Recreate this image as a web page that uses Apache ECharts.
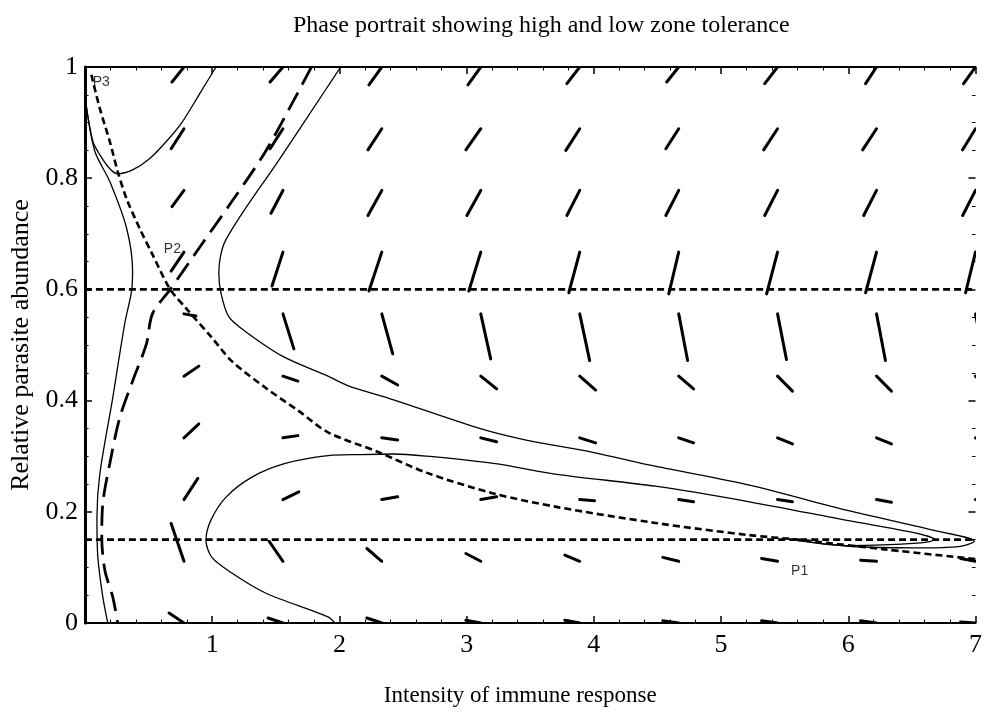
<!DOCTYPE html>
<html><head><meta charset="utf-8">
<script src="https://cdn.jsdelivr.net/npm/echarts@6/dist/echarts.min.js"></script>
<style>html,body{margin:0;padding:0;background:#fff}#c{width:985px;height:712px}</style>
</head><body><div id="c"></div>
<script>
const chartTitle = 'Phase portrait showing high and low zone tolerance';
const xName = 'Intensity of immune response';
const yName = 'Relative parasite abundance';
const xTickLabels = ['', '1', '2', '3', '4', '5', '6', '7'];
const yTickLabels = ['0', '0.2', '0.4', '0.6', '0.8', '1'];

// direction field grid (tail points) and segment components, rows bottom -> top
const fieldX = [0.778, 1.556, 2.333, 3.111, 3.889, 4.667, 5.444, 6.222, 7.0];
const fieldY = [0, 0.111, 0.222, 0.333, 0.444, 0.556, 0.667, 0.778, 0.889, 1.0];
const fieldU = [
  [-0.117,-0.117,-0.117,-0.117,-0.117,-0.125,-0.125,-0.125,-0.117],
  [-0.101,-0.109,-0.117,-0.117,-0.117,-0.125,-0.125,-0.125,-0.117],
  [0.109,0.125,0.125,0.125,0.117,0.117,0.117,0.117,0.117],
  [0.117,0.117,0.125,0.125,0.125,0.117,0.117,0.117,0.117],
  [0.117,0.117,0.125,0.125,0.125,0.117,0.117,0.117,0.117],
  [0.094,0.086,0.086,0.078,0.078,0.070,0.070,0.070,0.070],
  [-0.101,-0.086,-0.101,-0.094,-0.086,-0.078,-0.086,-0.086,-0.078],
  [-0.094,-0.094,-0.109,-0.109,-0.101,-0.101,-0.101,-0.101,-0.101],
  [-0.101,-0.101,-0.109,-0.117,-0.109,-0.101,-0.109,-0.109,-0.101],
  [-0.094,-0.101,-0.101,-0.101,-0.101,-0.094,-0.101,-0.086,-0.094]
];
const fieldV = [
  [0.018,0.009,0.009,0.005,0.005,0.004,0.004,0.004,0.002],
  [0.068,0.036,0.023,0.014,0.011,0.007,0.005,0.002,0.005],
  [0.038,0.014,0.005,0.005,-0.002,-0.004,-0.004,-0.005,-0.005],
  [0.025,0.004,-0.004,-0.007,-0.009,-0.009,-0.011,-0.011,-0.011],
  [0.018,-0.009,-0.016,-0.023,-0.025,-0.023,-0.027,-0.027,-0.027],
  [-0.004,-0.063,-0.072,-0.081,-0.084,-0.084,-0.082,-0.084,-0.084],
  [-0.034,-0.061,-0.070,-0.070,-0.073,-0.075,-0.075,-0.073,-0.073],
  [-0.029,-0.041,-0.045,-0.045,-0.045,-0.045,-0.045,-0.045,-0.045],
  [-0.036,-0.036,-0.038,-0.038,-0.039,-0.036,-0.038,-0.038,-0.038],
  [-0.027,-0.027,-0.032,-0.032,-0.030,-0.027,-0.030,-0.030,-0.030]
];

// horizontal nullclines
const highLevel = [[0, 0.6], [7, 0.6]];
const lowLevel = [[0, 0.15], [7, 0.15]];
// curved nullcline (short dash)
const curvedNullcline = [[0.05,0.986],[0.117,0.925],[0.195,0.866],[0.257,0.812],[0.327,0.763],[0.429,0.71],[0.53,0.663],[0.67,0.6],[0.795,0.566],[0.998,0.513],[1.154,0.471],[1.419,0.423],[1.676,0.382],[1.91,0.343],[2.299,0.308],[2.689,0.27],[3.21,0.233],[3.726,0.208],[4.482,0.18],[5.222,0.158],[5.6,0.15],[6.3,0.132],[7.0,0.115]];
// separatrix (long dash)
const separatrix = [[1.78,1.0],[1.676,0.955],[1.419,0.848],[1.154,0.758],[0.896,0.674],[0.67,0.6],[0.53,0.556],[0.483,0.502],[0.374,0.435],[0.273,0.369],[0.195,0.287],[0.14,0.215],[0.132,0.154],[0.156,0.095],[0.218,0.047],[0.257,0.0]];
// trajectories (solid)
const trajA = [[0.01,0.93],[0.062,0.866],[0.117,0.842],[0.195,0.817],[0.257,0.808],[0.374,0.815],[0.507,0.835],[0.639,0.866],[0.764,0.901],[0.896,0.95],[1.03,1.0]];
const trajB = [[0.01,0.93],[0.078,0.848],[0.195,0.794],[0.327,0.71],[0.374,0.633],[0.366,0.597],[0.312,0.538],[0.218,0.405],[0.117,0.269],[0.094,0.19],[0.101,0.118],[0.14,0.047],[0.179,0.0]];
const trajC = [[2.01,1.0],[1.894,0.96],[1.528,0.834],[1.107,0.689],[1.052,0.63],[1.068,0.594],[1.13,0.551],[1.263,0.524],[1.559,0.479],[1.91,0.444],[2.065,0.427],[2.432,0.401],[3.102,0.35],[3.468,0.329],[3.991,0.307],[4.482,0.282],[5.222,0.248],[6.002,0.202],[6.648,0.168],[6.99,0.147],[6.88,0.138],[6.52,0.135],[6.0,0.138],[5.6,0.148]];
const trajD = [[1.964,0.0],[1.91,0.011],[1.419,0.054],[1.154,0.09],[0.998,0.118],[0.951,0.149],[0.99,0.185],[1.107,0.226],[1.309,0.262],[1.574,0.287],[1.91,0.301],[2.167,0.303],[2.432,0.304],[2.689,0.3],[3.211,0.287],[3.726,0.267],[4.482,0.246],[5.222,0.218],[6.002,0.184],[6.524,0.162],[6.68,0.15],[6.57,0.144],[6.0,0.139],[5.6,0.149]];

// equilibrium labels
const pointNames = ['P1', 'P2', 'P3'];
const pointLabelX = [5.55, 0.62, 0.06];
const pointLabelY = [0.093, 0.672, 0.972];

const serif = 'Liberation Serif';
const chart = echarts.init(document.getElementById('c'), null, {renderer: 'canvas'});

const fieldData = [];
for (let j = 0; j < fieldY.length; j++) {
  for (let i = 0; i < fieldX.length; i++) {
    fieldData.push([fieldX[i], fieldY[j], fieldU[j][i], fieldV[j][i]]);
  }
}

function lineSeries(data, style) {
  return {type: 'line', data: data, symbol: 'none', showSymbol: false, smooth: 0.3,
    silent: true, lineStyle: Object.assign({color: '#000'}, style), z: 3};
}
function tick() { return {show: true, inside: true, length: 7, lineStyle: {color: '#000', width: 1.5}}; }
function minor(n) { return {show: true, splitNumber: n, length: 3.5, lineStyle: {color: '#000', width: 1}}; }

chart.setOption({
  animation: false,
  backgroundColor: '#fff',
  title: {text: chartTitle, left: 288, top: 9,
    textStyle: {fontFamily: serif, fontSize: 24, fontWeight: 'normal', color: '#000'}},
  grid: {left: 85, right: 2, top: 67, bottom: 86, containLabel: false},
  xAxis: [
    {
      type: 'value', min: 0, max: 7, interval: 1, position: 'bottom',
      splitLine: {show: false},
      axisLine: {show: true, onZero: false, lineStyle: {color: '#000', width: 2}},
      axisTick: tick(), minorTick: minor(5),
      axisLabel: {margin: 9, fontFamily: serif, fontSize: 26, color: '#000',
        formatter: v => xTickLabels[Math.round(v)]},
      name: xName, nameLocation: 'middle', nameGap: 61,
      nameTextStyle: {fontFamily: serif, fontSize: 23, color: '#000', padding: [0, 20, 0, 0]}
    },
    {
      type: 'value', min: 0, max: 7, interval: 1, position: 'top',
      splitLine: {show: false},
      axisLine: {show: true, onZero: false, lineStyle: {color: '#000', width: 2}},
      axisTick: tick(), minorTick: minor(5),
      axisLabel: {show: false}
    }
  ],
  yAxis: [
    {
      type: 'value', min: 0, max: 1, interval: 0.2, position: 'left',
      splitLine: {show: false},
      axisLine: {show: true, onZero: false, lineStyle: {color: '#000', width: 3}},
      axisTick: tick(), minorTick: minor(4),
      axisLabel: {margin: 7, fontFamily: serif, fontSize: 26, color: '#000',
        formatter: v => yTickLabels[Math.round(v * 5)]},
      name: yName, nameLocation: 'middle', nameGap: 48,
      nameTextStyle: {fontFamily: serif, fontSize: 26, color: '#000'}
    },
    {
      type: 'value', min: 0, max: 1, interval: 0.2, position: 'right',
      splitLine: {show: false},
      axisLine: {show: false, onZero: false},
      axisTick: tick(), minorTick: minor(4),
      axisLabel: {show: false}
    }
  ],
  series: [
    lineSeries(highLevel, {width: 2.6, type: [7, 4], cap: 'butt'}),
    lineSeries(lowLevel, {width: 2.6, type: [7, 4], cap: 'butt'}),
    lineSeries(curvedNullcline, {width: 2.6, type: [7, 4], cap: 'butt'}),
    lineSeries(separatrix, {width: 2.8, type: [20, 9], cap: 'butt'}),
    lineSeries(trajA, {width: 1.3}),
    lineSeries(trajB, {width: 1.3}),
    lineSeries(trajC, {width: 1.3}),
    lineSeries(trajD, {width: 1.3}),
    {
      type: 'custom', data: fieldData, clip: true, silent: true, z: 4,
      encode: {x: 0, y: 1},
      renderItem: function (params, api) {
        const p0 = api.coord([api.value(0), api.value(1)]);
        const p1 = api.coord([api.value(0) + api.value(2), api.value(1) + api.value(3)]);
        return {type: 'line', shape: {x1: p0[0], y1: p0[1], x2: p1[0], y2: p1[1]},
          style: {stroke: '#000', lineWidth: 3, lineCap: 'round'}};
      }
    },
    {
      type: 'scatter', symbolSize: 0, silent: true, z: 5,
      data: pointNames.map((n, k) => ({name: n, value: [pointLabelX[k], pointLabelY[k]]})),
      label: {show: true, position: 'right', distance: 0, formatter: '{b}',
        fontFamily: 'Liberation Sans', fontSize: 14, color: '#000'}
    }
  ]
});
</script></body></html>
